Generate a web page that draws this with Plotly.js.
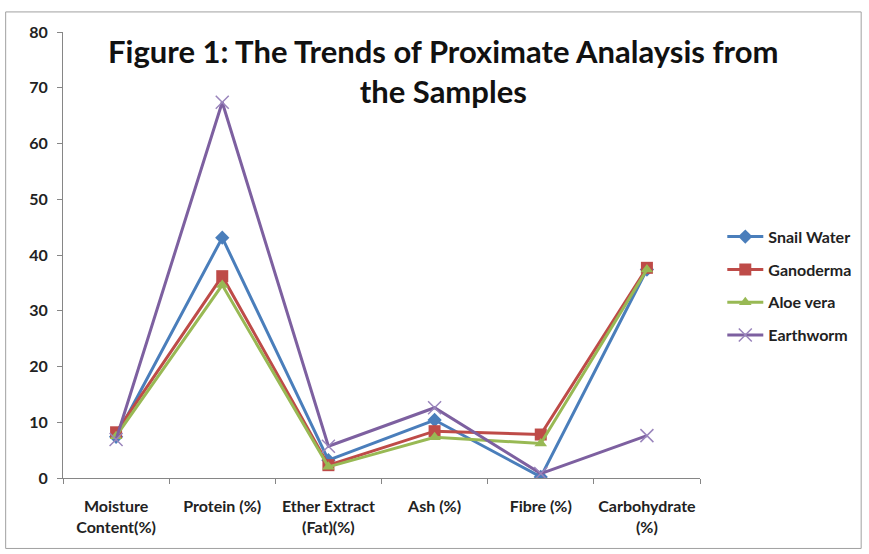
<!DOCTYPE html>
<html>
<head>
<meta charset="utf-8">
<script src="https://cdn.plot.ly/plotly-3.0.1.min.js"></script>
<style>html,body{margin:0;padding:0;background:#fff;}#chart{width:869px;height:554px;}</style>
</head>
<body>
<div id="chart"></div>
<script>
const categories = ["Moisture<br>Content(%)", "Protein (%)", "Ether Extract<br>(Fat)(%)", "Ash (%)", "Fibre (%)", "Carbohydrate<br>(%)"];
const seriesNames = ["Snail Water", "Ganoderma", "Aloe vera", "Earthworm"];
const snailWater = [7.4, 43.1, 3.2, 10.4, 0.2, 37.4];
const ganoderma  = [8.2, 36.2, 2.3, 8.4, 7.8, 37.7];
const aloeVera   = [7.5, 34.6, 2.0, 7.3, 6.2, 37.4];
const earthworm  = [6.9, 67.4, 5.7, 12.6, 0.8, 7.6];
const yTicks = [0, 10, 20, 30, 40, 50, 60, 70, 80];

const colors = ["#4A7EBB", "#BE4B48", "#98B954", "#7D60A0"];
const symbols = ["diamond", "square", "triangle-up", "x-thin-open"];
const sizes = [11, 12, 11, 13];
const values = [snailWater, ganoderma, aloeVera, earthworm];

const font = "Lato, 'Open Sans', sans-serif";

const traces = values.map((v, i) => ({
  type: "scatter",
  mode: "lines+markers",
  name: seriesNames[i],
  x: categories,
  y: v,
  legendgroup: "g" + i,
  line: {color: colors[i], width: 3},
  marker: {
    symbol: symbols[i],
    size: sizes[i],
    color: i === 3 ? "#9A85BC" : colors[i],
    line: i === 3 ? {color: "#9A85BC", width: 1.5} : {width: 0}
  }
}));

const layout = {
  width: 869, height: 554,
  margin: {l: 63, r: 166, t: 32, b: 76},
  paper_bgcolor: "#fff",
  plot_bgcolor: "#fff",
  showlegend: true,
  font: {family: font, color: "#222"},
  title: {
    text: "<b>Figure 1: The Trends of Proximate Analaysis from<br>the Samples</b>",
    font: {family: font, size: 31, color: "#111"},
    x: 0.597, xanchor: "center", xref: "paper",
    y: 0.887, yanchor: "top"
  },
  xaxis: {
    type: "category",
    range: [-0.5, 5.5],
    showgrid: false, zeroline: false,
    showline: true, linecolor: "#868686", linewidth: 1,
    ticks: "outside", tickson: "boundaries", ticklen: 5, tickcolor: "#868686",
    tickfont: {family: font, size: 16, color: "#222", weight: "bold"},
    tickangle: 0,
    ticklabelstandoff: 14
  },
  yaxis: {
    range: [0, 80],
    tickvals: yTicks,
    showgrid: false, zeroline: false,
    showline: true, linecolor: "#868686", linewidth: 1,
    ticks: "outside", ticklen: 5, tickcolor: "#868686",
    tickfont: {family: font, size: 16, color: "#222", weight: "bold"},
    ticklabelstandoff: 6
  },
  legend: {
    x: 1.035, xanchor: "left",
    y: 0.43, yanchor: "middle",
    font: {family: font, size: 16, color: "#222", weight: "bold"},
    traceorder: "grouped",
    tracegroupgap: 9,
    itemwidth: 36,
    bgcolor: "rgba(0,0,0,0)"
  },
  shapes: [{
    type: "rect", xref: "paper", yref: "paper",
    x0: -0.09, x1: 1.253, y0: -0.158, y1: 1.045,
    line: {color: "#A0A0A0", width: 1}
  }]
};

Plotly.newPlot("chart", traces, layout, {displayModeBar: false, staticPlot: true});
</script>
</body>
</html>
